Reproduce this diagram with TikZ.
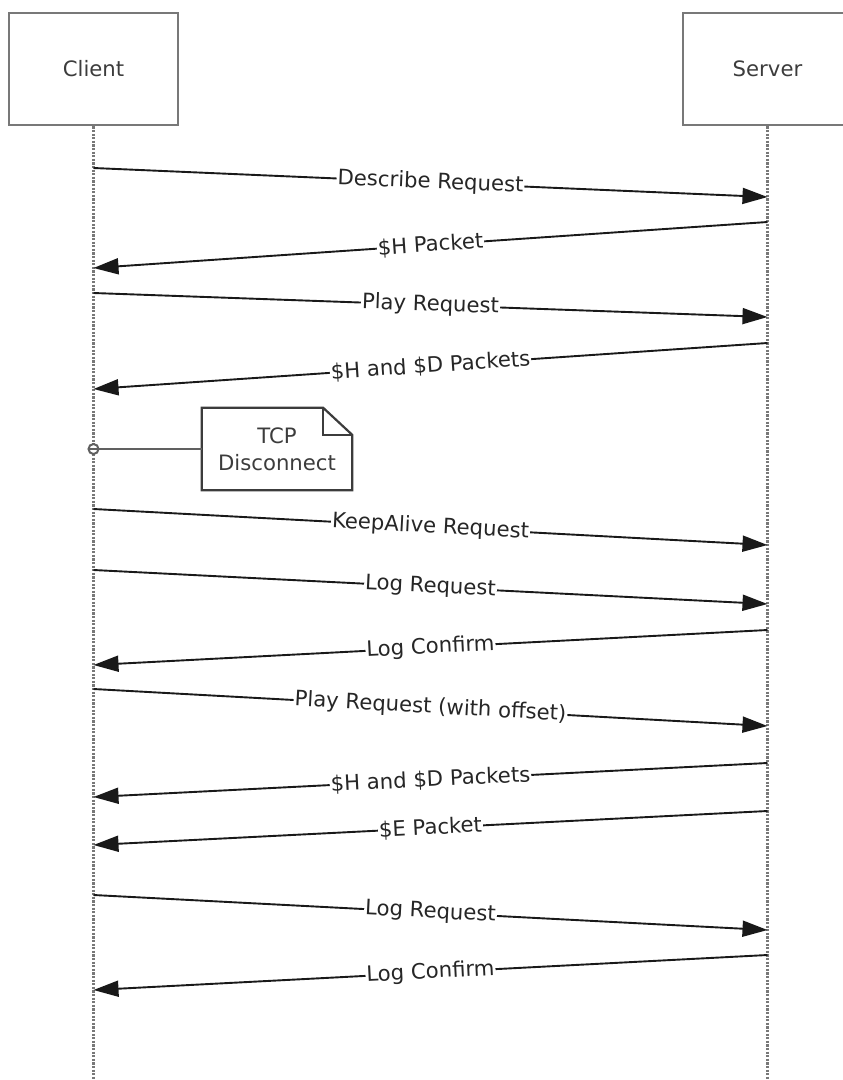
\documentclass[tikz,border=0pt]{standalone}
\usepackage{fontspec}
\setmainfont{DejaVu Sans}
\usetikzlibrary{arrows.meta}
\definecolor{boxgray}{RGB}{120,120,120}
\definecolor{txtgray}{RGB}{60,60,60}
\definecolor{notegray}{RGB}{60,60,60}
\begin{document}
\begin{tikzpicture}[x=1pt,y=-1pt,
  actor/.style={draw=boxgray, line width=2.6pt, minimum width=169pt, minimum height=112pt, inner sep=0pt, text=txtgray, font=\fontsize{21.2}{25}\selectfont},
  lifeline/.style={draw=boxgray, line width=2.6pt, dash pattern=on 2.2pt off 1.4pt},
  msg/.style={draw=black!90, line width=1.9pt, -{Triangle[length=25pt,width=16pt]}},
  lbl/.style={sloped, fill=white, inner sep=1pt, midway, font=\fontsize{21.2}{25}\selectfont, text=black!85},
  notebox/.style={minimum width=150pt, minimum height=82pt, inner sep=0pt, align=center, text=txtgray, font=\fontsize{21.2}{27}\selectfont}
]
\useasboundingbox (0,0) rectangle (843,1080);
\node[actor] (client) at (93.5,69) {Client};
\node[actor] (server) at (767.5,69) {Server};
\coordinate (cend) at (93.5,1080);
\coordinate (send) at (767.5,1080);
\draw[lifeline] (client.south) -- (cend);
\draw[lifeline] (server.south) -- (send);

% message endpoints
\foreach \n/\y in {c1/168,c2/268,c3/293,c4/389,c5/509,c6/570,c7/665,c8/689,c9/797,c10/845,c11/895,c12/990,cx/449}
  \coordinate (\n) at (93.5,\y);
\foreach \n/\y in {s1/197,s2/222,s3/317,s4/343,s5/545,s6/604,s7/630,s8/726,s9/763,s10/811,s11/930,s12/955}
  \coordinate (\n) at (767.5,\y);

\draw[msg] (c1) -- node[lbl] {Describe Request} (s1);
\draw[msg] (s2) -- node[lbl] {\$H Packet} (c2);
\draw[msg] (c3) -- node[lbl] {Play Request} (s3);
\draw[msg] (s4) -- node[lbl] {\$H and \$D Packets} (c4);
\draw[msg] (c5) -- node[lbl] {KeepAlive Request} (s5);
\draw[msg] (c6) -- node[lbl] {Log Request} (s6);
\draw[msg] (s7) -- node[lbl] {Log Confirm} (c7);
\draw[msg] (c8) -- node[lbl] {Play Request (with offset)} (s8);
\draw[msg] (s9) -- node[lbl] {\$H and \$D Packets} (c9);
\draw[msg] (s10) -- node[lbl] {\$E Packet} (c10);
\draw[msg] (c11) -- node[lbl] {Log Request} (s11);
\draw[msg] (s12) -- node[lbl] {Log Confirm} (c12);

% note
\node[notebox] (note) at (277,449) {TCP\\Disconnect};
\draw[notegray, line width=2.2pt, line join=miter]
  (note.south west) -- (note.north west) -- ([xshift=-29pt]note.north east)
  -- ([yshift=-27pt]note.north east) -- (note.south east) -- cycle;
\draw[notegray, line width=1.8pt]
  ([xshift=-29pt]note.north east) |- ([yshift=-27pt]note.north east);
\draw[boxgray!80!black, line width=2.4pt] (cx) -- (note.west);
\draw[boxgray!80!black, line width=2pt, fill=white] (cx) circle (5pt);
\draw[boxgray!80!black, line width=1.5pt] ([xshift=-5pt]cx) -- ([xshift=5pt]cx);
\end{tikzpicture}
\end{document}
